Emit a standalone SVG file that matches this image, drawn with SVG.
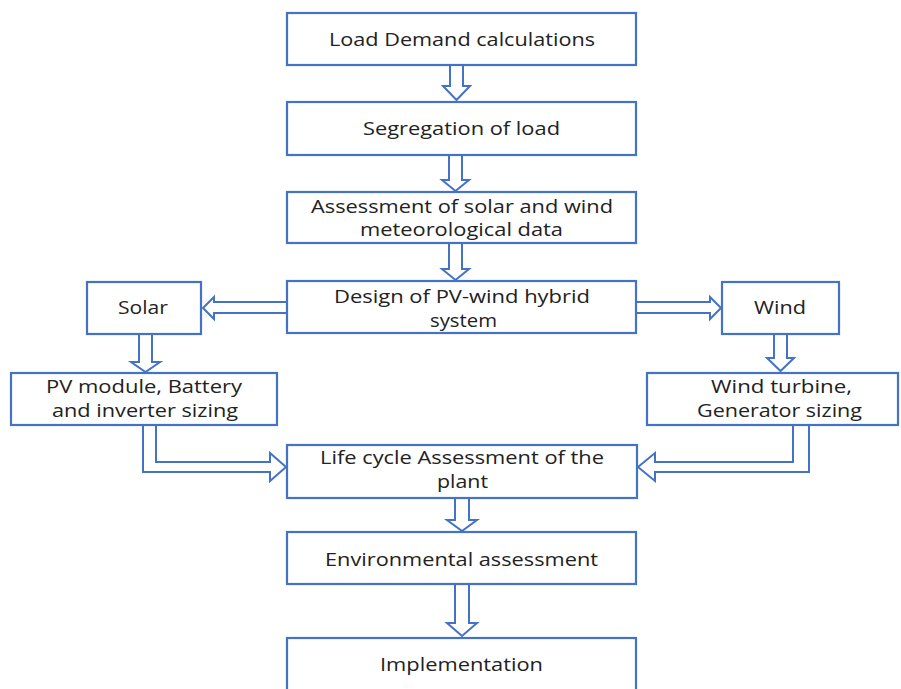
<svg xmlns="http://www.w3.org/2000/svg" width="901" height="689" viewBox="0 0 901 689">
<style>
.box{fill:#fff;stroke:#4472C4;stroke-width:2.2}
.arr{fill:#fff;stroke:#4472C4;stroke-width:2}
text{font-family:"Open Sans","Liberation Sans",sans-serif;font-size:18px;fill:#222;text-anchor:middle}
</style>
<rect width="901" height="689" fill="#fff"/>
<g id="connectors">
<polygon class="arr" points="450,65 463,65 463,86 470,86 456.5,100 443,86 450,86"/>
<polygon class="arr" points="449,155 462,155 462,180 469,180 455.5,191 442,180 449,180"/>
<polygon class="arr" points="449,243 462,243 462,269 469,269 455.5,280 442,269 449,269"/>
<polygon class="arr" points="287,302 214,302 214,297 203,308 214,319 214,313 287,313"/>
<polygon class="arr" points="636,302 710,302 710,297 721,308 710,319 710,313 636,313"/>
<polygon class="arr" points="139,334 152,334 152,362 160,362 145.5,372 131,362 139,362"/>
<polygon class="arr" points="774,334 787,334 787,358 794,358 780.5,371 767,358 774,358"/>
<polygon class="arr" points="143,425 143,472 270,472 270,481 286,467 270,453 270,462 156,462 156,425"/>
<polygon class="arr" points="793,425 793,462 655,462 655,453 638,467 655,481 655,472 809,472 809,425"/>
<polygon class="arr" points="455,498 469,498 469,520 477,520 462,531 447,520 455,520"/>
<polygon class="arr" points="455,584 469,584 469,623 477,623 462,636 447,623 455,623"/>
</g>
<g id="n1"><rect class="box" x="287" y="13" width="349" height="52"/><text x="462" y="46" textLength="266" lengthAdjust="spacingAndGlyphs">Load Demand calculations</text></g>
<g id="n2"><rect class="box" x="287" y="102" width="349" height="53"/><text x="461.5" y="135" textLength="197" lengthAdjust="spacingAndGlyphs">Segregation of load</text></g>
<g id="n3"><rect class="box" x="287" y="192" width="349" height="51"/><text x="462" y="213" textLength="302" lengthAdjust="spacingAndGlyphs">Assessment of solar and wind</text><text x="461.5" y="236" textLength="203" lengthAdjust="spacingAndGlyphs">meteorological data</text></g>
<g id="n4"><rect class="box" x="287" y="281" width="349" height="52"/><text x="462" y="303" textLength="256" lengthAdjust="spacingAndGlyphs">Design of PV-wind hybrid</text><text x="463.5" y="327" textLength="67" lengthAdjust="spacingAndGlyphs">system</text></g>
<g id="solar"><rect class="box" x="87" y="282" width="114" height="52"/><text x="143" y="314" textLength="50" lengthAdjust="spacingAndGlyphs">Solar</text></g>
<g id="wind"><rect class="box" x="722" y="282" width="117" height="52"/><text x="780" y="314" textLength="52" lengthAdjust="spacingAndGlyphs">Wind</text></g>
<g id="pv"><rect class="box" x="11" y="373" width="266" height="52"/><text x="144" y="393" textLength="196" lengthAdjust="spacingAndGlyphs">PV module, Battery</text><text x="145" y="417" textLength="186" lengthAdjust="spacingAndGlyphs">and inverter sizing</text></g>
<g id="wt"><rect class="box" x="647" y="373" width="251" height="52"/><text x="781.5" y="393" textLength="141" lengthAdjust="spacingAndGlyphs">Wind turbine,</text><text x="779.5" y="417" textLength="165" lengthAdjust="spacingAndGlyphs">Generator sizing</text></g>
<g id="lca"><rect class="box" x="287" y="445" width="350" height="53"/><text x="462" y="464" textLength="284" lengthAdjust="spacingAndGlyphs">Life cycle Assessment of the</text><text x="462.5" y="488" textLength="51" lengthAdjust="spacingAndGlyphs">plant</text></g>
<g id="env"><rect class="box" x="287" y="532" width="349" height="52"/><text x="461.5" y="566" textLength="273" lengthAdjust="spacingAndGlyphs">Environmental assessment</text></g>
<g id="impl"><rect class="box" x="287" y="638" width="349" height="60"/><text x="461.5" y="671" textLength="163" lengthAdjust="spacingAndGlyphs">Implementation</text></g>
</svg>
